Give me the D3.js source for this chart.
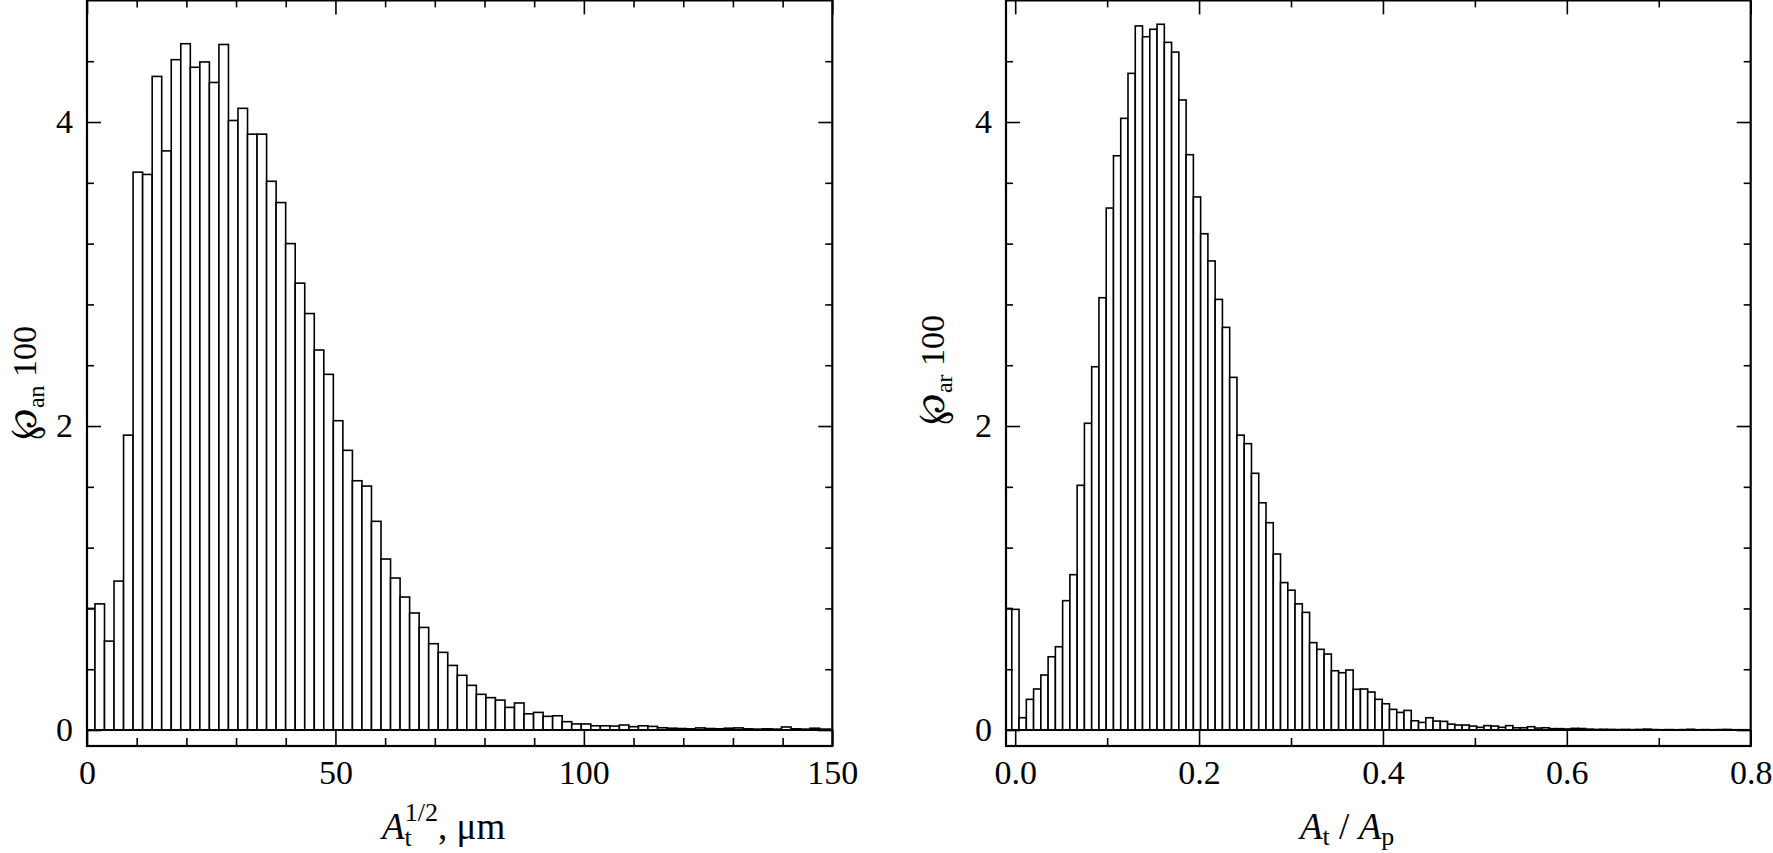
<!DOCTYPE html>
<html>
<head>
    <meta charset='utf-8' />
    <title>Two histograms</title>
    <script src="https://d3js.org/d3.v7.min.js" charset="utf-8"></script>
    <style>
        body {
            margin: 0;
            background: #fff;
        }
        .tick text {
            font-family: "Liberation Serif", "DejaVu Serif", serif;
            font-size: 34px;
            fill: #000;
        }
        .tick line {
            stroke: #000;
            stroke-width: 1.6px;
        }
        .lbl {
            font-family: "Liberation Serif", "DejaVu Serif", serif;
            font-size: 34px;
            fill: #000;
        }
    </style>
</head>
<body>
<svg id="chart"></svg>

<script>

// left panel: A_t^(1/2), um  -- first bin starts left of 0 and gets clipped
var leftBinStart = -0.316;
var leftBinWidth = 1.919;
var leftValues = [0.80, 0.83, 0.585, 0.98, 1.94, 3.67, 3.655, 4.30, 3.81, 4.41,
    4.515, 4.36, 4.395, 4.26, 4.51, 4.01, 4.09, 3.92, 3.92, 3.61,
    3.47, 3.20, 2.94, 2.74, 2.50, 2.34, 2.035, 1.84, 1.64, 1.605,
    1.373, 1.125, 1.0, 0.875, 0.77, 0.675, 0.568, 0.511, 0.425, 0.36,
    0.294, 0.235, 0.213, 0.197, 0.149, 0.178, 0.107, 0.116, 0.09, 0.094,
    0.055, 0.04, 0.04, 0.028, 0.028, 0.026, 0.033, 0.022, 0.028, 0.024,
    0.015, 0.012, 0.010, 0.008, 0.014, 0.010, 0.008, 0.012, 0.014, 0.008,
    0.006, 0.008, 0.006, 0.020, 0.008, 0.006, 0.012, 0.006, 0.005];
var leftMajorX = [0, 50, 100, 150];
var leftMinorX = [10, 20, 30, 40, 60, 70, 80, 90, 110, 120, 130, 140];

// right panel: A_t / A_p
var rightBinStart = -0.0116;
var rightBinWidth = 0.0079;
var rightValues = [0.80, 0.794, 0.081, 0.202, 0.27, 0.362, 0.482, 0.548, 0.851, 1.022,
    1.61, 2.018, 2.39, 2.844, 3.434, 3.778, 4.024, 4.32, 4.632, 4.561,
    4.61, 4.643, 4.524, 4.46, 4.145, 3.785, 3.507, 3.265, 3.086, 2.833,
    2.649, 2.32, 1.94, 1.884, 1.689, 1.495, 1.364, 1.158, 0.97, 0.92,
    0.83, 0.774, 0.575, 0.531, 0.5, 0.39, 0.377, 0.395, 0.268, 0.27,
    0.25, 0.202, 0.173, 0.136, 0.116, 0.129, 0.061, 0.05, 0.081, 0.059,
    0.057, 0.039, 0.033, 0.033, 0.026, 0.018, 0.029, 0.026, 0.018, 0.029,
    0.015, 0.015, 0.022, 0.013, 0.015, 0.009, 0.009, 0.007, 0.011, 0.010,
    0.006, 0.004, 0.005, 0.004, 0.003, 0.004, 0.003, 0.004, 0.006, 0.003,
    0.002, 0.003, 0.002, 0.003, 0.005, 0.002, 0.003, 0.002, 0.003, 0.004,
    0.002, 0.002, 0.002];
var rightMajorX = [0, 0.2, 0.4, 0.6, 0.8];
var rightMinorX = [0.1, 0.3, 0.5, 0.7];

// shared y axis (values x 100)
var yMajor = [0, 2, 4];
var yMinor = [0.4, 0.8, 1.2, 1.6, 2.4, 2.8, 3.2, 3.6, 4.4];
var yDomain = [-0.105, 4.8];


var W = 1773, H = 853;

var svg = d3.select("#chart")
    .attr("width", W)
    .attr("height", H);

svg.append("rect")
    .attr("width", W)
    .attr("height", H)
    .attr("fill", "#fff");

var y = d3.scaleLinear()
    .domain(yDomain)
    .range([746, 0.4]);


function drawPanel(cfg) {

    var x = d3.scaleLinear()
        .domain(cfg.domain)
        .range(cfg.range);

    var g = svg.append("g");

    var clipId = "clip" + cfg.id;
    svg.append("clipPath")
        .attr("id", clipId)
        .append("rect")
        .attr("x", cfg.range[0])
        .attr("y", 0)
        .attr("width", cfg.range[1] - cfg.range[0])
        .attr("height", y(yDomain[0]));

    // histogram bars
    var lo = cfg.domain[0], hi = cfg.domain[1];
    g.append("g")
        .attr("clip-path", "url(#" + clipId + ")")
        .selectAll(".bar")
        .data(cfg.values)
        .enter()
        .append("rect")
        .attr("class", "bar")
        .attr("x", function(d, i) { return x(Math.max(lo, cfg.start + i * cfg.width)); })
        .attr("width", function(d, i) {
            var a = Math.max(lo, cfg.start + i * cfg.width);
            var b = Math.min(hi, cfg.start + (i + 1) * cfg.width);
            return Math.max(0, x(b) - x(a));
        })
        .attr("y", function(d) { return y(d); })
        .attr("height", function(d) { return y(0) - y(d); })
        .attr("fill", "#fff")
        .attr("stroke", "#000")
        .attr("stroke-width", 1.6);

    // zero line
    g.append("line")
        .attr("x1", cfg.range[0])
        .attr("x2", cfg.range[1])
        .attr("y1", y(0))
        .attr("y2", y(0))
        .attr("stroke", "#000")
        .attr("stroke-width", 2);

    function noDomain(sel) { sel.select(".domain").remove(); }

    // bottom
    g.append("g")
        .attr("transform", "translate(0," + y(yDomain[0]) + ")")
        .call(d3.axisBottom(x).tickValues(cfg.major).tickSize(-16).tickPadding(14).tickFormat(cfg.fmt))
        .call(noDomain);
    g.append("g")
        .attr("transform", "translate(0," + y(yDomain[0]) + ")")
        .call(d3.axisBottom(x).tickValues(cfg.minor).tickSize(-8).tickFormat(""))
        .call(noDomain);
    // top
    g.append("g")
        .attr("transform", "translate(0," + y(yDomain[1]) + ")")
        .call(d3.axisTop(x).tickValues(cfg.major).tickSize(-14).tickFormat(""))
        .call(noDomain);
    g.append("g")
        .attr("transform", "translate(0," + y(yDomain[1]) + ")")
        .call(d3.axisTop(x).tickValues(cfg.minor).tickSize(-7).tickFormat(""))
        .call(noDomain);
    // left
    g.append("g")
        .attr("transform", "translate(" + cfg.range[0] + ",0)")
        .call(d3.axisLeft(y).tickValues(yMajor).tickSize(-14).tickPadding(14).tickFormat(d3.format("d")))
        .call(noDomain);
    g.append("g")
        .attr("transform", "translate(" + cfg.range[0] + ",0)")
        .call(d3.axisLeft(y).tickValues(yMinor).tickSize(-7).tickFormat(""))
        .call(noDomain);
    // right
    g.append("g")
        .attr("transform", "translate(" + cfg.range[1] + ",0)")
        .call(d3.axisRight(y).tickValues(yMajor).tickSize(-14).tickFormat(""))
        .call(noDomain);
    g.append("g")
        .attr("transform", "translate(" + cfg.range[1] + ",0)")
        .call(d3.axisRight(y).tickValues(yMinor).tickSize(-7).tickFormat(""))
        .call(noDomain);

    // frame
    g.append("rect")
        .attr("x", cfg.range[0])
        .attr("y", y(yDomain[1]))
        .attr("width", cfg.range[1] - cfg.range[0])
        .attr("height", y(yDomain[0]) - y(yDomain[1]))
        .attr("fill", "none")
        .attr("stroke", "#000")
        .attr("stroke-width", 2.2);

    // y label, rotated
    var yl = svg.append("text")
        .attr("class", "lbl")
        .attr("text-anchor", "middle")
        .attr("transform", "translate(" + cfg.yLabelX + "," + cfg.yLabelY + ") rotate(-90)");
    yl.append("tspan").attr("font-size", 38).text("\u2118");
    yl.append("tspan").attr("font-size", 24).attr("dy", 8).text(cfg.sub);
    yl.append("tspan").attr("dy", -8).text("\u00a0100");

    // x label
    var xl = svg.append("text")
        .attr("class", "lbl")
        .style("font-size", "37px")
        .attr("x", cfg.xLabelX)
        .attr("y", 839);
    cfg.xLabel(xl);
}


drawPanel({
    id: "L",
    domain: [0, 150],
    range: [87, 832.3],
    values: leftValues,
    start: leftBinStart,
    width: leftBinWidth,
    major: leftMajorX,
    minor: leftMinorX,
    fmt: d3.format("d"),
    sub: "an",
    yLabelX: 36,
    yLabelY: 383,
    xLabelX: 382,
    xLabel: function(t) {
        t.append("tspan").attr("font-style", "italic").text("A");
        t.append("tspan").attr("font-size", 26).attr("dy", 7).text("t");
        t.append("tspan").attr("font-size", 26).attr("dx", -7).attr("dy", -25).text("1/2");
        t.append("tspan").attr("dy", 18).text(", \u03bcm");
    }
});

drawPanel({
    id: "R",
    domain: [-0.01, 0.8],
    range: [1006, 1750.7],
    values: rightValues,
    start: rightBinStart,
    width: rightBinWidth,
    major: rightMajorX,
    minor: rightMinorX,
    fmt: d3.format(".1f"),
    sub: "ar",
    yLabelX: 944,
    yLabelY: 370,
    xLabelX: 1300,
    xLabel: function(t) {
        t.append("tspan").attr("font-style", "italic").text("A");
        t.append("tspan").attr("font-size", 26).attr("dy", 6).text("t");
        t.append("tspan").attr("dy", -6).text(" / ");
        t.append("tspan").attr("font-style", "italic").text("A");
        t.append("tspan").attr("font-size", 26).attr("dy", 6).text("p");
    }
});

</script>
</body>
</html>
